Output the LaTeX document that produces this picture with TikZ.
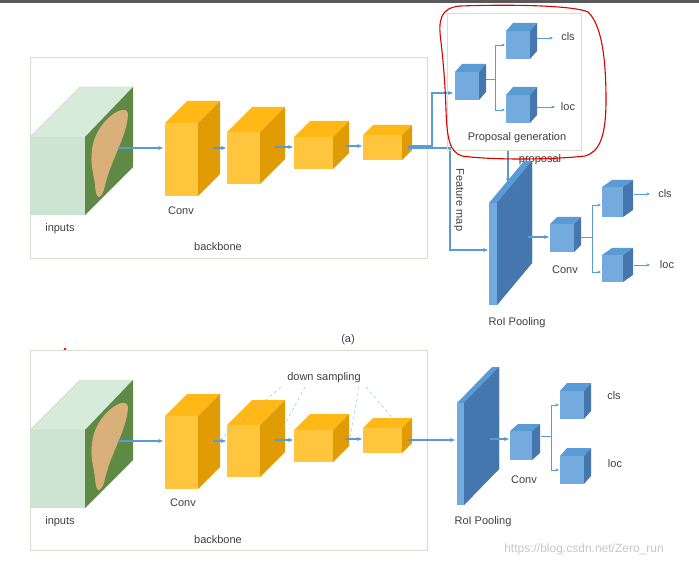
\documentclass[tikz,border=0pt]{standalone}
\usepackage{fontspec}
\setmainfont{Liberation Sans}
\usetikzlibrary{arrows.meta}
\definecolor{of}{HTML}{FFB815}\definecolor{ot}{HTML}{FFC63D}\definecolor{os}{HTML}{E09B05}
\definecolor{bf}{HTML}{5B9BD5}\definecolor{bt}{HTML}{73ABDF}\definecolor{bs}{HTML}{4676AE}
\definecolor{gf}{HTML}{CDE5D0}\definecolor{gt}{HTML}{D6EBD9}
\definecolor{gr}{HTML}{5E8A45}\definecolor{dg}{HTML}{D9B07A}
\definecolor{ln}{HTML}{5B9BD5}\definecolor{bx}{HTML}{D5DDCF}
\newcommand{\cub}[9]{%
 \fill[#7] (#1,#2)--++(#5,#6)--++(#3,0)--++(-#5,-#6)--cycle;
 \fill[#9] (#1+#3,#2)--++(#5,#6)--++(0,#4)--++(-#5,-#6)--cycle;
 \fill[#8] (#1,#2) rectangle ++(#3,#4);}
\newcommand{\dogcube}[1]{%
 \begin{scope}[yshift=-#1]
 \fill[gt] (30,137)--(80,87)--(133,87)--(85,137)--cycle;
 \fill[gf] (30,137) rectangle (85,215);
 \draw[gf!70!black!40, line width=.4] (30,137)--(80,87)--(133,87)--(85,137)--cycle (30,137) rectangle (85,215);
 \fill[gr] (85,137)--(133,87)--(133,167)--(85,215)--cycle;
 \fill[dg] (92,150) .. controls (95,120) and (128,100) .. (128,115) .. controls (126,140) and (110,160) .. (104,190) .. controls (100,200) and (96,200) .. (95,185) .. controls (94,175) and (90,165) .. (92,150);
 \end{scope}}
\tikzset{ar/.style={ln,line width=1.2,-{Stealth[length=5pt,width=4pt]}},
 tar/.style={ln,line width=.6,-{Stealth[length=3.5pt,width=3pt]}},
 lab/.style={font=\fontsize{11}{13}\selectfont,text=black!75,inner sep=0},
 box/.style={draw=bx,line width=.8}}
\begin{document}
\begin{tikzpicture}[x=1pt,y=-1pt]
\useasboundingbox (0,0) rectangle (699,564);
\fill[white] (0,0) rectangle (699,564);
\fill[black!65] (0,0) rectangle (699,3);
% ---------- top ----------
\draw[box] (30,57) rectangle (427,258);
\dogcube{0}
\cub{165}{123}{33}{73}{22}{-22}{of}{ot}{os}
\cub{227}{132}{33}{52}{25}{-25}{of}{ot}{os}
\cub{294}{137}{39}{32}{16}{-16}{of}{ot}{os}
\cub{363}{135}{39}{25}{10}{-10}{of}{ot}{os}
\node[lab] (conv1) at (181,211) {Conv};
\node[lab] (in1) at (60,229) {inputs};
\node[lab] (bb1) at (218,247) {backbone};
\coordinate (a1) at (118,148); \coordinate (a2) at (163,148);
\coordinate (a3) at (213,148); \coordinate (a4) at (226,148);
\coordinate (a5) at (275,147); \coordinate (a6) at (293,147);
\coordinate (a7) at (345,146); \coordinate (a8) at (362,146);
\draw[ar] (a1)--(a2); \draw[ar] (a3)--(a4); \draw[ar] (a5)--(a6); \draw[ar] (a7)--(a8);
\coordinate (f0) at (408,146); \coordinate (f1) at (453,93); \coordinate (f2) at (488,250);
\draw[ar] (f0)-|(432,93)--(f1);
\draw[ar] (408,148)-|(450,250)--(f2);
\node[lab,rotate=-90] (fm) at (459,200) {Feature map};
% proposal generation
\draw[box] (447,13) rectangle (581,150);
\cub{455}{72}{24}{28}{7}{-8}{bf}{bt}{bs}
\cub{506}{31}{24}{28}{7}{-8}{bf}{bt}{bs}
\cub{506}{95}{24}{28}{7}{-8}{bf}{bt}{bs}
\coordinate (p0) at (486,79); \coordinate (pc) at (505,45); \coordinate (pl) at (505,110);
\draw[ln,line width=.6] (p0)--(495,79);
\draw[tar] (495,79)|-(pc); \draw[tar] (495,79)|-(pl);
\node[lab] (pcls) at (568,37) {cls};
\node[lab] (ploc) at (568,107) {loc};
\draw[tar] (537,38)--(553,38); \draw[tar] (537,107)--(555,107);
\node[lab] (pg) at (517,138) {Proposal generation};
\node[lab] (prop) at (540,160) {proposal};
\coordinate (q0) at (508,151); \coordinate (q1) at (508,183);
\draw[ar] (q0)--(q1);
% RoI pooling top
\cub{489}{203}{8}{102}{35}{-42}{bf}{bt}{bs}
\fill[bs] (497,203)--(532,161)--(532,263)--(497,305)--cycle;
\node[lab] (roi1) at (517,323) {RoI Pooling};
\coordinate (r0) at (528,237); \coordinate (r1) at (549,237);
\draw[ar] (r0)--(r1);
\cub{550}{224}{24}{28}{7}{-7}{bf}{bt}{bs}
\cub{602}{187}{21}{30}{10}{-7}{bf}{bt}{bs}
\cub{602}{255}{21}{27}{10}{-7}{bf}{bt}{bs}
\node[lab] (conv2) at (565,270) {Conv};
\coordinate (c0) at (581,237); \coordinate (cc) at (601,205); \coordinate (cl) at (601,272);
\draw[ln,line width=.6] (c0)--(592,237);
\draw[tar] (592,237)|-(cc); \draw[tar] (592,237)|-(cl);
\node[lab] (ccls) at (665,194) {cls};
\node[lab] (cloc) at (667,265) {loc};
\draw[tar] (634,194)--(650,194); \draw[tar] (634,265)--(650,265);
\node[lab] (a) at (348,340) {(a)};
% red freehand
\draw[red!85!black,line width=1.1] (441,42) .. controls (438,20) and (440,8) .. (460,6) .. controls (520,4) and (575,6) .. (588,12) .. controls (602,25) and (606,60) .. (606,100) .. controls (606,135) and (600,152) .. (585,156) .. controls (550,160) and (490,160) .. (462,156) .. controls (450,152) and (447,140) .. (446,110) .. controls (445,80) and (443,60) .. (441,42);
% ---------- bottom ----------
\fill[red] (65,349) circle (1.3);
\draw[box] (30,350) rectangle (427,550);
\dogcube{293}
\cub{165}{416}{33}{73}{22}{-22}{of}{ot}{os}
\cub{227}{425}{33}{52}{25}{-25}{of}{ot}{os}
\cub{294}{430}{39}{32}{16}{-16}{of}{ot}{os}
\cub{363}{428}{39}{25}{10}{-10}{of}{ot}{os}
\node[lab] (conv3) at (183,503) {Conv};
\node[lab] (in2) at (60,522) {inputs};
\node[lab] (bb2) at (218,540) {backbone};
\node[lab] (ds) at (324,378) {down sampling};
\coordinate (b1) at (118,441); \coordinate (b2) at (163,441);
\coordinate (b3) at (213,441); \coordinate (b4) at (226,441);
\coordinate (b5) at (275,440); \coordinate (b6) at (293,440);
\coordinate (b7) at (345,439); \coordinate (b8) at (362,439);
\draw[ar] (b1)--(b2); \draw[ar] (b3)--(b4); \draw[ar] (b5)--(b6); \draw[ar] (b7)--(b8);
\draw[ln!70,dashed,line width=.4] (281,387)--(215,444) (305,387)--(277,439) (359,387)--(350,439) (366,387)--(401,428);
\coordinate (g0) at (408,440); \coordinate (g1) at (455,440);
\draw[ar] (g0)--(g1);
\cub{457}{403}{7}{102}{35}{-36}{bf}{bt}{bs}
\fill[bs] (464,403)--(499,367)--(499,469)--(464,505)--cycle;
\node[lab] (roi2) at (483,522) {RoI Pooling};
\coordinate (h0) at (490,439); \coordinate (h1) at (509,439);
\draw[ar] (h0)--(h1);
\cub{510}{431}{22}{29}{8}{-7}{bf}{bt}{bs}
\cub{560}{391}{24}{28}{7}{-8}{bf}{bt}{bs}
\cub{560}{456}{24}{28}{7}{-8}{bf}{bt}{bs}
\node[lab] (conv4) at (524,480) {Conv};
\coordinate (k0) at (541,436); \coordinate (kc) at (559,405); \coordinate (kl) at (559,470);
\draw[ln,line width=.6] (k0)--(551,436);
\draw[tar] (551,436)|-(kc); \draw[tar] (551,436)|-(kl);
\node[lab] (bcls) at (614,396) {cls};
\node[lab] (bloc) at (615,464) {loc};
\node[font=\fontsize{12}{14}\selectfont,text=black!22,inner sep=0] (wm) at (584,549) {https://blog.csdn.net/Zero\_run};
\end{tikzpicture}
\end{document}
